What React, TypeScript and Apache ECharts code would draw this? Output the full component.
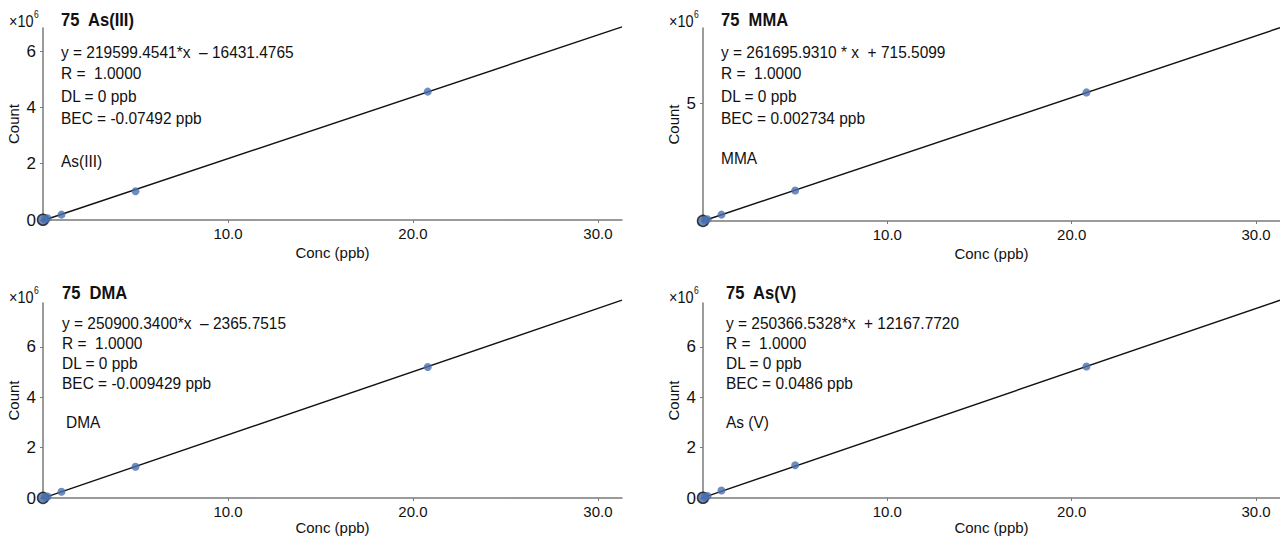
import React, { useEffect, useRef } from "react";
import * as echarts from "echarts";

const FONT = '"Liberation Sans", Arial, sans-serif';

// Standard concentrations (ppb)
const conc = [0, 0.1, 0.25, 1, 5, 20.8];

// Counts
const asIII = [10000, 20000, 60000, 190000, 1020000, 4560000];
const mma = [3000, 30000, 70000, 270000, 1290000, 5450000];
const dma = [5000, 25000, 60000, 250000, 1240000, 5200000];
const asV = [10000, 40000, 80000, 300000, 1300000, 5220000];

// Calibration fits shown in the chart
const slopes = [219599.4541, 261695.931, 250900.34, 250366.5328];
const intercepts = [-16431.4765, 715.5099, -2365.7515, 12167.772];

const titles = ["75  As(III)", "75  MMA", "75  DMA", "75  As(V)"];
const equations = [
  "y = 219599.4541*x  \u2013 16431.4765",
  "y = 261695.9310 * x  + 715.5099",
  "y = 250900.3400*x  \u2013 2365.7515",
  "y = 250366.5328*x  + 12167.7720",
];
const rTexts = ["R =  1.0000", "R =  1.0000", "R =  1.0000", "R =  1.0000"];
const dlTexts = ["DL = 0 ppb", "DL = 0 ppb", "DL = 0 ppb", "DL = 0 ppb"];
const becTexts = [
  "BEC = -0.07492 ppb",
  "BEC = 0.002734 ppb",
  "BEC = -0.009429 ppb",
  "BEC = 0.0486 ppb",
];
const labels = ["As(III)", "MMA", "DMA", "As (V)"];

const xMax = 31.3;
const yMaxes = [6.82e6, 8.18e6, 7.74e6, 7.74e6];
const yIntervals = [2e6, 5e6, 2e6, 2e6];
const seriesData = [asIII, mma, dma, asV];

const grids = [
  { left: 43, top: 28, width: 579, height: 192 },
  { left: 703, top: 28, width: 577, height: 193 },
  { left: 43, top: 303, width: 579, height: 195 },
  { left: 703, top: 303, width: 577, height: 195 },
];
const nameGaps = [25, 25, 21, 21];

const textPos = [
  { x: 61, titleY: 20, lines: [52, 73, 96, 118], labelY: 161, labelX: 61 },
  { x: 721, titleY: 20, lines: [52, 73, 96, 118], labelY: 158, labelX: 721 },
  { x: 62, titleY: 293, lines: [323, 343, 363, 383], labelY: 422, labelX: 66 },
  { x: 726, titleY: 293, lines: [323, 343, 363, 383], labelY: 422, labelX: 726 },
];
const expPos = [
  { x: 9, y: 21 },
  { x: 669, y: 21 },
  { x: 9, y: 297 },
  { x: 669, y: 297 },
];

export default function App() {
  const ref = useRef<HTMLDivElement>(null);
  useEffect(() => {
    if (!ref.current) return;
    const chart = echarts.init(ref.current, undefined, { renderer: "svg" });

    const xAxis = grids.map((_, i) => ({
      type: "value",
      gridIndex: i,
      min: 0,
      max: xMax,
      interval: 10,
      name: "Conc (ppb)",
      nameLocation: "middle",
      nameGap: nameGaps[i],
      nameTextStyle: { fontFamily: FONT, fontSize: 15, color: "#111" },
      axisLine: { show: true, onZero: false, lineStyle: { color: "#7a7a7a", width: 1.5 } },
      axisTick: { show: true, length: 3, lineStyle: { color: "#7a7a7a" } },
      axisLabel: {
        showMinLabel: false,
        showMaxLabel: false,
        fontFamily: FONT,
        fontSize: 15,
        color: "#111",
        margin: 6,
        formatter: (v: number) => v.toFixed(1),
      },
      splitLine: { show: false },
    }));

    const yAxis = grids.map((_, i) => ({
      type: "value",
      gridIndex: i,
      min: 0,
      max: yMaxes[i],
      interval: yIntervals[i],
      name: "Count",
      nameLocation: "middle",
      nameGap: 22,
      nameTextStyle: { fontFamily: FONT, fontSize: 15, color: "#111" },
      axisLine: { show: true, onZero: false, lineStyle: { color: "#7a7a7a", width: 1.5 } },
      axisTick: { show: true, length: 3, lineStyle: { color: "#7a7a7a" } },
      axisLabel: {
        showMinLabel: i !== 1,
        showMaxLabel: false,
        fontFamily: FONT,
        fontSize: 17,
        color: "#111",
        margin: 7,
        formatter: (v: number) => String(Math.round(v / 1e6)),
      },
      splitLine: { show: false },
    }));

    const series: any[] = [];
    grids.forEach((_, i) => {
      series.push({
        type: "line",
        xAxisIndex: i,
        yAxisIndex: i,
        clip: false,
        symbol: "none",
        lineStyle: { color: "#111", width: 1.4 },
        data: [
          [0, intercepts[i]],
          [xMax, slopes[i] * xMax + intercepts[i]],
        ],
        z: 2,
      });
      series.push({
        type: "scatter",
        xAxisIndex: i,
        yAxisIndex: i,
        clip: false,
        symbolSize: 8,
        itemStyle: { color: "#4a6fad" },
        data: conc.map((c, k) =>
          k === 0
            ? {
                value: [c, seriesData[i][k]],
                symbolSize: 11,
                itemStyle: { color: "#4a6fad", borderColor: "#111", borderWidth: 1.5 },
              }
            : [c, seriesData[i][k]]
        ),
        z: 3,
      });
    });

    const txt = (x: number, y: number, text: string, size: number, bold = false, sx = 0.9) => ({
      type: "text",
      x,
      y,
      scaleX: sx,
      style: {
        text,
        fontFamily: FONT,
        fontSize: size,
        fontWeight: bold ? "bold" : "normal",
        fill: "#111",
        verticalAlign: "middle",
      },
    });

    const graphic: any[] = [];
    grids.forEach((_, i) => {
      const p = textPos[i];
      const e = expPos[i];
      graphic.push(txt(e.x, e.y, "\u00d710", 17, false, 0.85));
      graphic.push(txt(e.x + 25, e.y - 6, "6", 10, false, 0.85));
      graphic.push(txt(p.x, p.titleY, titles[i], 18, true, 0.92));
      const lines = [equations[i], rTexts[i], dlTexts[i], becTexts[i]];
      lines.forEach((t, k) => graphic.push(txt(p.x, p.lines[k], t, 17, false, 0.91)));
      graphic.push(txt(p.labelX, p.labelY, labels[i], 17, false, 0.91));
    });

    chart.setOption({
      animation: false,
      backgroundColor: "#ffffff",
      grid: grids.map((g) => ({ ...g, containLabel: false })),
      xAxis,
      yAxis,
      series,
      graphic,
    });
    return () => chart.dispose();
  }, []);

  return (
    <div
      ref={ref}
      style={{ position: "fixed", left: 0, top: 0, width: 1280, height: 537, background: "#fff" }}
    />
  );
}
